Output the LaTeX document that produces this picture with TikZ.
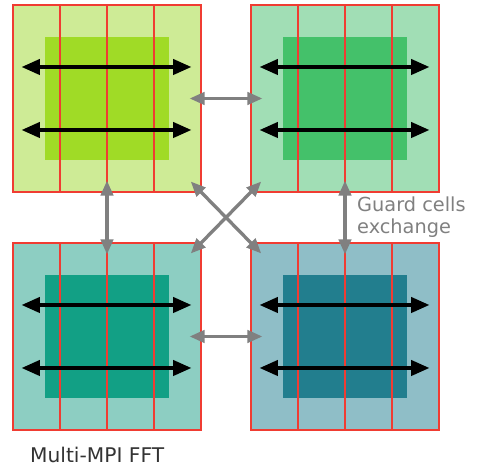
\documentclass[tikz,border=0pt]{standalone}
\usepackage{fontspec}
\setmainfont{DejaVu Sans}
\usetikzlibrary{arrows.meta, positioning}

\definecolor{gridred}{RGB}{240,60,50}
\definecolor{tlout}{RGB}{206,235,150}
\definecolor{tlin}{RGB}{160,219,38}
\definecolor{trout}{RGB}{161,222,181}
\definecolor{trin}{RGB}{68,193,106}
\definecolor{blout}{RGB}{141,206,194}
\definecolor{blin}{RGB}{18,160,133}
\definecolor{brout}{RGB}{143,190,199}
\definecolor{brin}{RGB}{34,126,142}
\definecolor{notegray}{RGB}{128,128,128}

\begin{document}
\begin{tikzpicture}[x=0.02cm, y=-0.02cm,
  outer/.style={draw=gridred, line width=0.7pt, minimum width=3.76cm, minimum height=3.74cm, inner sep=0pt},
  inner/.style={minimum width=2.48cm, minimum height=2.48cm, inner sep=0pt},
  slab/.style={draw=gridred, line width=0.8pt},
  fftarrow/.style={{Triangle[length=10.5pt,width=8.5pt]}-{Triangle[length=10.5pt,width=8.5pt]}, line width=2.3pt},
  swap/.style={{Triangle[length=8.5pt,width=7pt]}-{Triangle[length=8.5pt,width=7pt]}, draw=notegray, line width=1.9pt,
    shorten <=-0.24cm, shorten >=-0.24cm}]
  \useasboundingbox (0,0) rectangle (478,472);

  % four MPI blocks: guard cells round the local data, FFT along the rows
  \foreach \name/\x/\y/\light/\dark in {tl/107/98.5/tlout/tlin, tr/345/98.5/trout/trin,
                                        bl/107/336.5/blout/blin, br/345/336.5/brout/brin} {
    \node[outer, fill=\light] (\name) at (\x,\y) {};
    \node[inner, fill=\dark] (\name in) at (\name) {};
    \draw[slab] (\name.north) -- (\name.south);
    \draw[slab] ([xshift=-0.94cm]\name.north) -- ([xshift=-0.94cm]\name.south);
    \draw[slab] ([xshift=0.94cm]\name.north) -- ([xshift=0.94cm]\name.south);
    \draw[fftarrow] ([shift={(9,-31.5)}]\name.west) -- ([shift={(-10,-31.5)}]\name.east);
    \draw[fftarrow] ([shift={(9,31.5)}]\name.west) -- ([shift={(-10,31.5)}]\name.east);
  }

  % guard cells exchange
  \draw[swap] (tl.east) -- (tr.west);
  \draw[swap] (bl.east) -- (br.west);
  \draw[swap] (tl.south) -- (bl.north);
  \draw[swap] (tr.south) -- (br.north);
  \draw[swap, shorten <=-0.31cm, shorten >=-0.31cm] (tl.south east) -- (br.north west);
  \draw[swap, shorten <=-0.31cm, shorten >=-0.31cm] (tr.south west) -- (bl.north east);

  \node[anchor=west, align=left, text=notegray, font=\fontsize{11}{12.5}\selectfont] (guard) at (351,217) {Guard cells\\exchange};
  \node[anchor=west, text=black!80, font=\fontsize{11.5}{13}\selectfont] (title) at (24,455) {Multi-MPI FFT};
\end{tikzpicture}
\end{document}
